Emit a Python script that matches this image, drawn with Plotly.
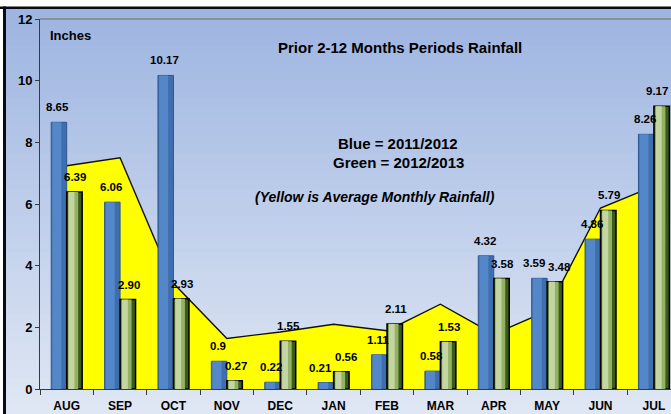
import plotly.graph_objects as go

# ---------------- data ----------------
months = ["AUG", "SEP", "OCT", "NOV", "DEC", "JAN", "FEB", "MAR", "APR", "MAY", "JUN", "JUL"]
rain_2011_2012 = [8.65, 6.06, 10.17, 0.9, 0.22, 0.21, 1.11, 0.58, 4.32, 3.59, 4.86, 8.26]
rain_2012_2013 = [6.39, 2.90, 2.93, 0.27, 1.55, 0.56, 2.11, 1.53, 3.58, 3.48, 5.79, 9.17]
avg_monthly = [7.24, 7.50, 3.43, 1.64, 1.85, 2.10, 1.89, 2.75, 1.78, 2.53, 5.87, 6.58]
labels_2011_2012 = ["8.65", "6.06", "10.17", "0.9", "0.22", "0.21", "1.11", "0.58", "4.32", "3.59", "4.86", "8.26"]
labels_2012_2013 = ["6.39", "2.90", "2.93", "0.27", "1.55", "0.56", "2.11", "1.53", "3.58", "3.48", "5.79", "9.17"]
y_ticks = [0, 2, 4, 6, 8, 10, 12]

# ---------------- layout geometry ----------------
W, H = 671, 414
ML, MR, MT, MB = 40, 0, 19, 25
PW, PH = W - ML - MR, H - MT - MB
X_MAX = 11.32
CAT_PX = PW / (X_MAX + 0.5)


def px(x):
    return (x - ML) / PW


def py(y):
    return (H - MB - y) / PH


FONT = "Liberation Sans Narrow, Arial Narrow, Liberation Sans, Arial, sans-serif"
BW = 0.29  # bar width in category units

fig = go.Figure()

# yellow average area (main axes, drawn underneath)
fig.add_trace(go.Scatter(
    x=months, y=avg_monthly, mode="lines", fill="tozeroy",
    fillcolor="#ffff00", line=dict(color="#111111", width=1.4),
    xaxis="x", yaxis="y", showlegend=False, hoverinfo="skip"))

# blue bars (overlay axes so they sit above the yellow area)
fig.add_trace(go.Bar(x=months, y=rain_2011_2012, offset=-BW, width=BW,
                     marker=dict(color="#3f6eae", line=dict(color="#2f5690", width=1)),
                     xaxis="x2", yaxis="y2", showlegend=False))
fig.add_trace(go.Bar(x=months, y=rain_2011_2012, offset=-BW + 0.02, width=0.17,
                     marker=dict(color="#5387c7", line=dict(width=0)),
                     xaxis="x2", yaxis="y2", showlegend=False))
# green bars
fig.add_trace(go.Bar(x=months, y=rain_2012_2013, offset=0.0, width=BW,
                     marker=dict(color="#3c5a1c", line=dict(color="#000000", width=1.5)),
                     xaxis="x2", yaxis="y2", showlegend=False))
fig.add_trace(go.Bar(x=months, y=rain_2012_2013, offset=0.025, width=0.19,
                     marker=dict(color="#93b264", line=dict(width=0)),
                     xaxis="x2", yaxis="y2", showlegend=False))
fig.add_trace(go.Bar(x=months, y=rain_2012_2013, offset=0.035, width=0.11,
                     marker=dict(color="#c3d6a2", line=dict(width=0)),
                     xaxis="x2", yaxis="y2", showlegend=False))

LBL_SIZE = 11.5
LBL_FONT = dict(family=FONT, size=LBL_SIZE, color="black", weight="bold")
half_bar = BW * CAT_PX / 2
annotations = []
for i, m in enumerate(months):
    vb, vg = rain_2011_2012[i], rain_2012_2013[i]
    # spread the two labels a little when they sit at nearly the same height
    spread = 4 if abs(vb - vg) * PH / 12 < 12 else 0
    annotations.append(dict(x=m, y=vb, xref="x", yref="y", text=labels_2011_2012[i],
                            showarrow=False, xanchor="center", yanchor="middle",
                            xshift=-half_bar - 1 - spread, yshift=15, font=LBL_FONT))
    g = dict(x=m, y=vg, xref="x", yref="y", text=labels_2012_2013[i],
             showarrow=False, xanchor="center", yanchor="middle",
             xshift=half_bar + 1 + spread, yshift=15, font=LBL_FONT)
    # keep the label inside the picture at the clipped right edge
    centre_px = (i + 0.5) * CAT_PX + g["xshift"]
    est_w = 0.58 * LBL_SIZE * len(labels_2012_2013[i])
    if centre_px + est_w / 2 > PW - 1:
        g["xanchor"] = "right"
        g["xshift"] = (PW - 1) - (i + 0.5) * CAT_PX
    annotations.append(g)


def txt(x, y, s, size, xanchor="center"):
    return dict(x=px(x), y=py(y), xref="paper", yref="paper", text=s, showarrow=False,
                xanchor=xanchor, yanchor="middle",
                font=dict(family=FONT, size=size, color="black", weight="bold"))


annotations += [
    txt(400, 47, "Prior 2-12 Months Periods Rainfall", 15),
    txt(48, 36, "Inches", 13, xanchor="left"),
    txt(398, 143, "Blue = 2011/2012", 15),
    txt(398, 162, "Green = 2012/2013", 15),
    txt(375, 197, "<i>(Yellow is Average Monthly Rainfall)</i>", 14),
]

# background gradient bands + frame
shapes = []
top_c = (158, 181, 225)
bot_c = (223, 231, 244)
y_top, y_bot = 9, 414
n = 45
for i in range(n):
    f = i / (n - 1)
    c = tuple(int(round(top_c[k] + (bot_c[k] - top_c[k]) * f)) for k in range(3))
    ya = y_top + (y_bot - y_top) * i / n
    yb = y_top + (y_bot - y_top) * (i + 1) / n + 0.5
    shapes.append(dict(type="rect", xref="paper", yref="paper", layer="below",
                       x0=px(6), x1=px(W), y0=py(yb), y1=py(ya),
                       fillcolor="rgb(%d,%d,%d)" % c, line=dict(width=0)))
# top gridline at 12
shapes.append(dict(type="line", xref="paper", yref="paper", layer="below",
                   x0=0, x1=1, y0=1, y1=1, line=dict(color="#8a8f99", width=2)))
# black frame (top and left)
shapes.append(dict(type="rect", xref="paper", yref="paper", layer="below",
                   x0=px(0), x1=px(W), y0=py(9), y1=py(6.5), fillcolor="#0a0a14", line=dict(width=0)))
shapes.append(dict(type="rect", xref="paper", yref="paper", layer="below",
                   x0=px(3), x1=px(6), y0=py(H), y1=py(6.5), fillcolor="#0a0a14", line=dict(width=0)))

fig.update_layout(
    width=W, height=H,
    margin=dict(l=ML, r=MR, t=MT, b=MB, pad=0),
    paper_bgcolor="white", plot_bgcolor="rgba(0,0,0,0)",
    barmode="overlay", showlegend=False,
    shapes=shapes, annotations=annotations,
    xaxis=dict(type="category", range=[-0.5, X_MAX], showgrid=False, zeroline=False,
               showline=True, linecolor="#3a3a3a", linewidth=1,
               ticks="outside", tickson="boundaries", ticklen=5, tickcolor="#3a3a3a",
               ticklabelstandoff=6,
               tickfont=dict(family=FONT, size=12, color="black", weight="bold")),
    yaxis=dict(range=[0, 12], tickvals=y_ticks, showgrid=False, zeroline=False,
               showline=True, linecolor="#3a3a3a", linewidth=1,
               ticks="outside", ticklen=4, tickcolor="#3a3a3a",
               tickfont=dict(family=FONT, size=13, color="black", weight="bold")),
    xaxis2=dict(type="category", overlaying="x", anchor="y2", range=[-0.5, X_MAX], visible=False),
    yaxis2=dict(overlaying="y", anchor="x2", range=[0, 12], visible=False),
)

fig.write_html("out.html", config={"displayModeBar": False},
               post_script="document.body.style.margin='0px';")
